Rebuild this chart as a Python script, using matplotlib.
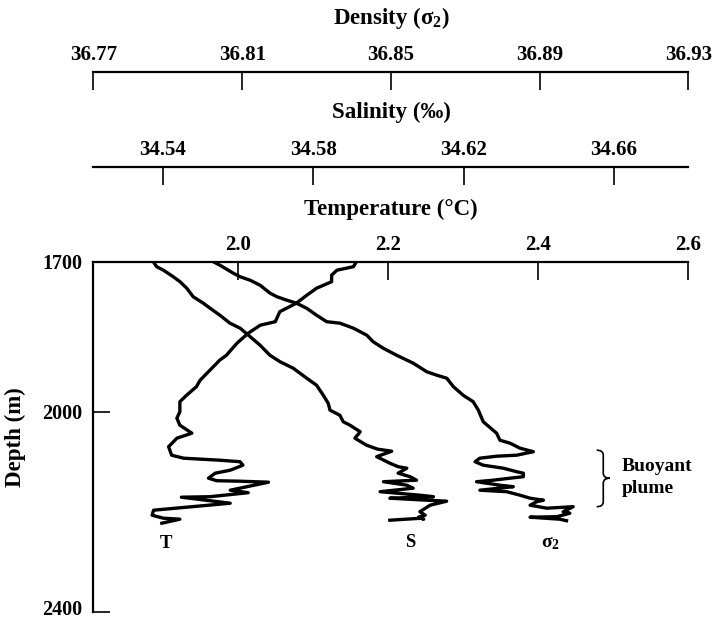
import matplotlib
matplotlib.use('Agg')
import matplotlib.pyplot as plt
import matplotlib.transforms as mtransforms
from matplotlib.path import Path
from matplotlib.patches import PathPatch

plt.rcParams['font.family'] = ['Liberation Serif', 'DejaVu Serif']
plt.rcParams['font.weight'] = 'bold'
plt.rcParams['mathtext.fontset'] = 'custom'
plt.rcParams['mathtext.rm'] = 'Liberation Serif:bold'
plt.rcParams['mathtext.it'] = 'Liberation Serif:bold'
plt.rcParams['mathtext.bf'] = 'Liberation Serif:bold'

# temperature profile (deg C vs depth m)
temp_depth = [1700, 1710, 1717, 1727, 1740, 1753, 1767, 1783, 1800, 1820, 1827, 1843,
              1863, 1887, 1897, 1917, 1937, 1950, 1967, 1980, 2000, 2013, 2027, 2043,
              2053, 2070, 2087, 2093, 2097, 2100, 2107, 2117, 2123, 2133, 2138, 2139,
              2141, 2157, 2162, 2170, 2171, 2183, 2191, 2197, 2207, 2213, 2215, 2223]
temp = [2.158, 2.154, 2.132, 2.125, 2.125, 2.105, 2.092, 2.078, 2.056, 2.050, 2.030, 2.014,
        1.999, 1.985, 1.976, 1.963, 1.950, 1.945, 1.932, 1.923, 1.923, 1.919, 1.923, 1.939,
        1.919, 1.908, 1.912, 1.928, 1.976, 2.003, 2.007, 1.990, 1.970, 1.961, 1.972, 2.003,
        2.041, 1.990, 2.014, 1.963, 1.925, 1.990, 1.932, 1.888, 1.886, 1.901, 1.923, 1.899]

# salinity profile (per mil)
sal_depth = [1700, 1710, 1717, 1730, 1740, 1753, 1770, 1783, 1793, 1807, 1823, 1833,
             1847, 1867, 1887, 1900, 1913, 1933, 1947, 1967, 1983, 1997, 2007, 2020,
             2027, 2040, 2045, 2053, 2067, 2075, 2079, 2090, 2103, 2110, 2113, 2123,
             2130, 2137, 2140, 2147, 2153, 2160, 2167, 2170, 2173, 2177, 2179, 2187,
             2200, 2207, 2211, 2215, 2213, 2217]
sal = [34.5375, 34.5384, 34.5402, 34.5428, 34.5446, 34.5464, 34.5481, 34.5508, 34.5526,
       34.5552, 34.5579, 34.5606, 34.5628, 34.5659, 34.5685, 34.5712, 34.5747, 34.5783,
       34.5809, 34.5827, 34.5840, 34.5845, 34.5871, 34.5880, 34.5898, 34.5925, 34.5920,
       34.5911, 34.5942, 34.5972, 34.6009, 34.5969, 34.6004, 34.6026, 34.6049, 34.6026,
       34.6058, 34.6075, 34.5987, 34.6049, 34.6066, 34.5978, 34.6084, 34.6120, 34.6004,
       34.6102, 34.6155, 34.6111, 34.6084, 34.6098, 34.6080, 34.6094, 34.6089, 34.6004]

# density profile (sigma_2)
dens_depth = [1700, 1707, 1723, 1730, 1737, 1747, 1763, 1770, 1777, 1783, 1793, 1807,
              1820, 1823, 1833, 1847, 1860, 1873, 1887, 1903, 1920, 1927, 1933, 1950,
              1967, 1980, 1997, 2020, 2043, 2057, 2063, 2073, 2080, 2087, 2089, 2093,
              2100, 2107, 2113, 2120, 2123, 2130, 2133, 2137, 2140, 2147, 2150, 2157,
              2160, 2167, 2173, 2177, 2180, 2187, 2193, 2190, 2200, 2203, 2210, 2211,
              2215, 2218]
dens = [36.8022, 36.8040, 36.8076, 36.8094, 36.8121, 36.8148, 36.8175, 36.8193, 36.8220,
        36.8246, 36.8273, 36.8300, 36.8327, 36.8363, 36.8399, 36.8435, 36.8452, 36.8479,
        36.8515, 36.8560, 36.8596, 36.8623, 36.8650, 36.8668, 36.8694, 36.8721, 36.8735,
        36.8748, 36.8784, 36.8793, 36.8820, 36.8847, 36.8883, 36.8838, 36.8784, 36.8739,
        36.8726, 36.8748, 36.8802, 36.8838, 36.8856, 36.8856, 36.8820, 36.8775, 36.8730,
        36.8793, 36.8829, 36.8739, 36.8811, 36.8847, 36.8874, 36.8910, 36.8892, 36.8874,
        36.8919, 36.8990, 36.8963, 36.8981, 36.8946, 36.8874, 36.8954, 36.8972]

temp_lim = (1.808, 2.6)
sal_lim = (34.5216, 34.6798)
dens_lim = (36.77, 36.93)
depth_lim = (2400, 1700)
temp_ticks = [2.0, 2.2, 2.4, 2.6]
sal_ticks = [34.54, 34.58, 34.62, 34.66]
dens_ticks = [36.77, 36.81, 36.85, 36.89, 36.93]
depth_ticks = [1700, 2000, 2400]

fig = plt.figure(figsize=(7.13, 6.22), dpi=100)
L, W = 0.1311, 0.8345
TICK_FS = 15
TITLE_FS = 16.5

def scale_axis(ax, ticks, labels, lim):
    for s in ['left', 'right', 'bottom']:
        ax.spines[s].set_visible(False)
    ax.spines['top'].set_visible(True)
    ax.spines['top'].set_linewidth(1.6)
    ax.set_xlim(*lim)
    ax.xaxis.tick_top()
    ax.set_xticks(ticks)
    ax.set_xticklabels(labels)
    ax.tick_params(axis='x', direction='in', length=13, width=1.2, pad=5, labelsize=TICK_FS)
    ax.set_yticks([])
    ax.patch.set_visible(False)

ax = fig.add_axes([L, 0.01656, W, 0.5627])
ax.set_ylim(*depth_lim)

ax_s = ax.twiny()
ax_d = ax.twiny()
for a, lim in [(ax_s, sal_lim), (ax_d, dens_lim)]:
    a.set_xlim(*lim)
    a.set_xticks([])
    for s in a.spines.values():
        s.set_visible(False)

scale_axis(ax, temp_ticks, ['%.1f' % t for t in temp_ticks], temp_lim)
ax.spines['left'].set_visible(True)
ax.spines['left'].set_linewidth(1.6)
ax.set_yticks(depth_ticks)
ax.tick_params(axis='y', direction='in', length=12, width=1.2, pad=8, labelsize=14.5)
# nudge the bottom label up so it stays inside the figure
last = ax.yaxis.get_major_ticks()[-1].label1
last.set_transform(last.get_transform() +
                   mtransforms.ScaledTranslation(0, 3 / 72, fig.dpi_scale_trans))

ax.plot(temp, temp_depth, color='black', lw=2.4, solid_joinstyle='round')
ax_s.plot(sal, sal_depth, color='black', lw=2.4, solid_joinstyle='round')
ax_d.plot(dens, dens_depth, color='black', lw=2.4, solid_joinstyle='round')

ax.text(1.905, 2263, 'T', ha='center', va='center', fontsize=13.5)
ax_s.text(34.6058, 2262, 'S', ha='center', va='center', fontsize=13.5)
ax_d.text(36.8928, 2262, 'σ$_2$', ha='center', va='center', fontsize=14)

# bracket for the buoyant plume
tr = mtransforms.blended_transform_factory(ax.transAxes, ax.transData)
x0, xm, xt = 0.8457, 0.8568, 0.868
y0, ym, y1 = 2077, 2133, 2190
verts = [(x0, y0), (xm, y0), (xm, y0 + 10), (xm, ym - 10), (xm, ym), (xt, ym),
         (xm, ym), (xm, ym + 10), (xm, y1 - 10), (xm, y1), (x0, y1)]
codes = [Path.MOVETO, Path.CURVE3, Path.CURVE3, Path.LINETO, Path.CURVE3, Path.CURVE3,
         Path.CURVE3, Path.CURVE3, Path.LINETO, Path.CURVE3, Path.CURVE3]
ax.add_patch(PathPatch(Path(verts, codes), transform=tr, fill=False, lw=1.2,
                       edgecolor='black', clip_on=False))
ax.text(0.888, 2109, 'Buoyant', transform=tr, ha='left', va='center', fontsize=14, clip_on=False)
ax.text(0.888, 2153, 'plume', transform=tr, ha='left', va='center', fontsize=14, clip_on=False)

ax_sal = fig.add_axes([L, 0.7320 - 0.001, W, 0.001])
scale_axis(ax_sal, sal_ticks, ['%.2f' % t for t in sal_ticks], sal_lim)
ax_den = fig.add_axes([L, 0.8847 - 0.001, W, 0.001])
scale_axis(ax_den, dens_ticks, ['%.2f' % t for t in dens_ticks], dens_lim)

cx = L + W / 2
fig.text(cx, 1 - 18 / 622, 'Density (σ$_2$)', ha='center', va='center', fontsize=TITLE_FS)
fig.text(cx, 1 - 112 / 622, 'Salinity (‰)', ha='center', va='center', fontsize=TITLE_FS)
fig.text(cx, 1 - 209 / 622, 'Temperature (°C)', ha='center', va='center', fontsize=TITLE_FS)
fig.text(15.5 / 713, 1 - 437 / 622, 'Depth (m)', ha='center', va='center',
         rotation=90, fontsize=TITLE_FS)

fig.savefig('out.png', dpi=100)
